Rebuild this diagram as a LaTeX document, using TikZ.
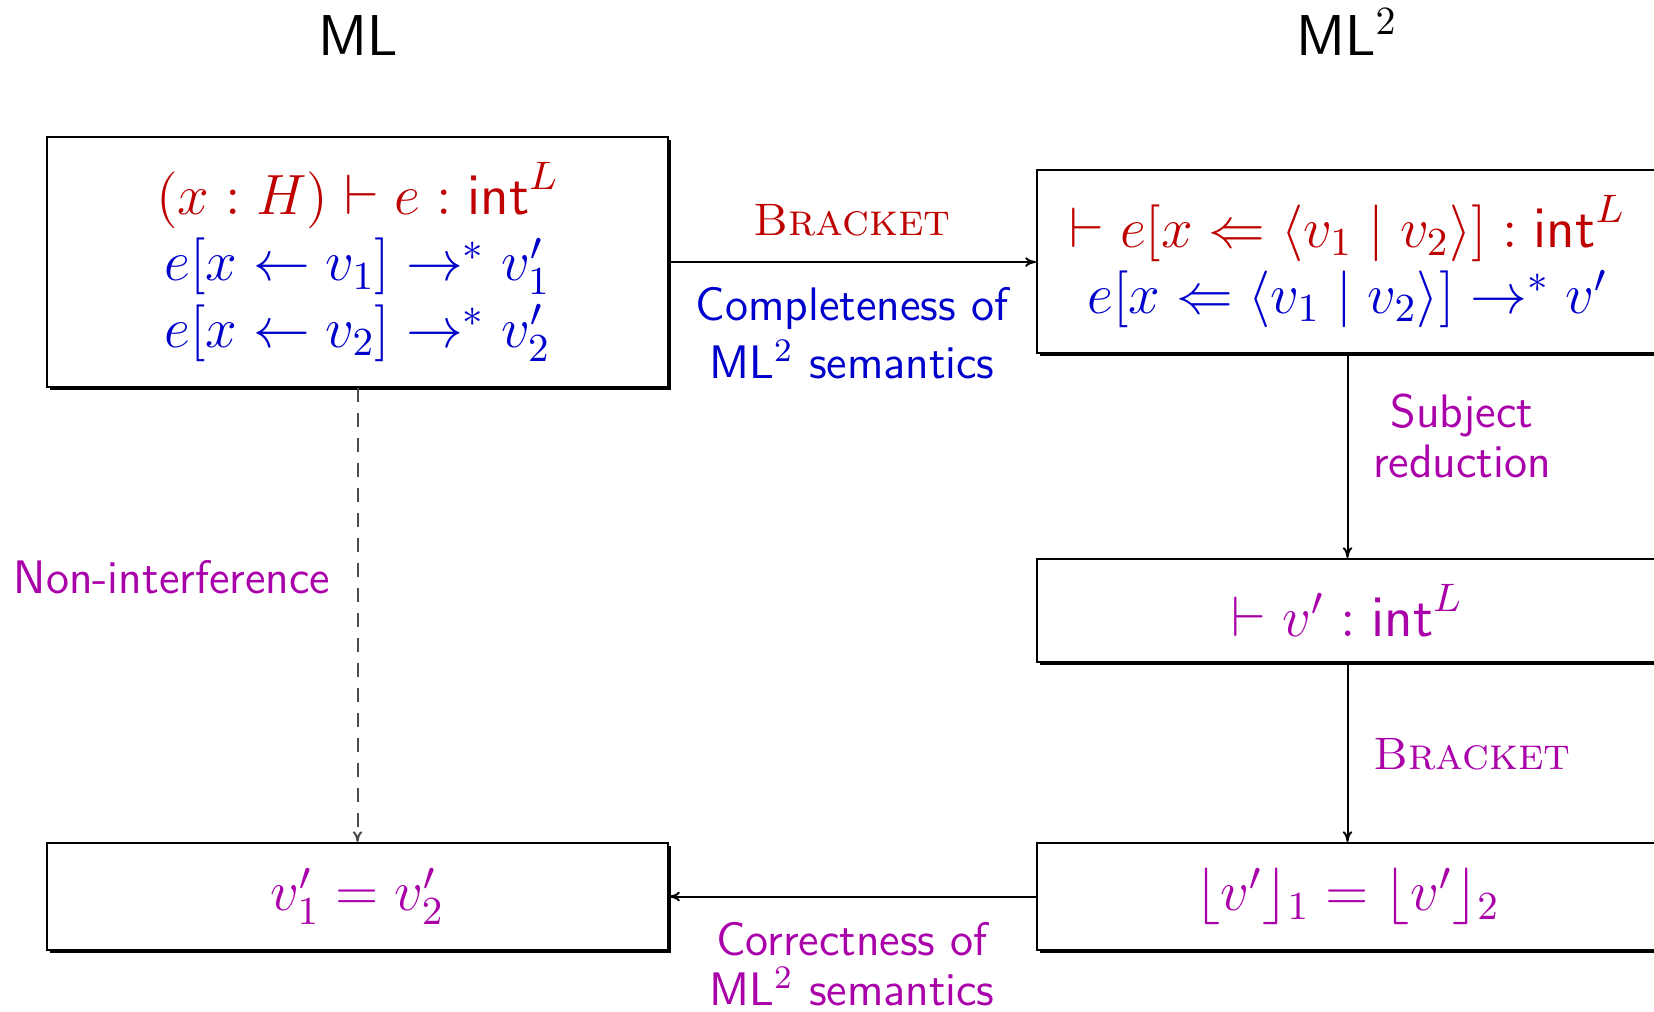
\RequirePackage{fix-cm}
\documentclass[tikz,border=0pt]{standalone}
\usepackage{amsmath}
\usetikzlibrary{arrows.meta,shadows}
\definecolor{cred}{RGB}{191,0,0}
\definecolor{cblue}{RGB}{0,0,204}
\definecolor{cmag}{RGB}{170,0,170}
\newcommand{\boxfont}{\fontsize{14.2}{16.6}\selectfont}
\newcommand{\lblfont}{\sffamily\fontsize{11.75}{12.5}\selectfont}
\newcommand{\lblfontwide}{\sffamily\fontsize{11.75}{14.5}\selectfont}
\newcommand{\scfont}{\rmfamily\scshape\fontsize{11.375}{12.5}\selectfont}
\newcommand{\ttlfont}{\sffamily\fontsize{14.4}{16}\selectfont}
\newcommand{\myint}{\mathsf{int}}
\begin{document}
\begin{tikzpicture}[x=0.25pt,y=-0.25pt,
  stmt/.style={draw=black, line width=0.5pt, fill=white, inner sep=0pt,
    minimum width=155.25pt, align=center, font=\boxfont,
    drop shadow={shadow xshift=0.7pt,shadow yshift=-0.7pt,fill=black,opacity=1}},
  lbl/.style={inner sep=0pt, align=center, font=\lblfont},
  ttl/.style={inner sep=0pt, font=\ttlfont, anchor=base},
  conn/.style={line width=0.5pt, -{To[length=2.7pt,width=2.4pt]}},
  dconn/.style={conn, draw=black!70, dash pattern=on 3.5pt off 2.75pt}
]
\useasboundingbox (0,0) rectangle (1654,1011);

% column titles
\node[ttl] (tml) at (358,55) {ML};
\node[ttl] (tmltwo) at (1347,55) {ML$^2$};

% boxes
\node[stmt, minimum height=62.5pt] (b1) at (357.5,262)
  {\textcolor{cred}{$(x:H)\vdash e:\myint^L$}\\
   \textcolor{cblue}{$e[x\leftarrow v_1]\rightarrow^{*} v_1'$}\\
   \textcolor{cblue}{$e[x\leftarrow v_2]\rightarrow^{*} v_2'$}};
\node[stmt, minimum height=45.75pt] (b2) at (1347.5,261.5)
  {\textcolor{cred}{$\vdash e[x\Leftarrow\langle v_1\mid v_2\rangle]:\myint^L$}\\
   \textcolor{cblue}{$e[x\Leftarrow\langle v_1\mid v_2\rangle]\rightarrow^{*} v'$}};
\node[stmt, minimum height=25.75pt] (b3) at (1347.5,610.5)
  {\textcolor{cmag}{$\vdash v':\myint^L$}};
\node[stmt, minimum height=26.75pt] (b4) at (1347.5,896.5)
  {\textcolor{cmag}{$\lfloor v'\rfloor_1=\lfloor v'\rfloor_2$}};
\node[stmt, minimum height=26.75pt] (b5) at (357.5,896.5)
  {\textcolor{cmag}{$v_1'=v_2'$}};

% connectors
\draw[conn] (b1.east) -- (b1.east -| b2.west);
\draw[conn] (b2.south) -- (b3.north);
\draw[conn] (b3.south) -- (b4.north);
\draw[conn] (b4.west) -- (b5.east);
\draw[dconn] (b1.south) -- (b5.north);

% labels
\node[lbl, anchor=base, font=\scfont, text=cred] (brone) at (852,235) {Bracket};
\node[lbl, font=\lblfontwide, text=cblue] (compl) at (852,333) {Completeness of\\ML$^2$ semantics};
\node[lbl, text=cmag] (subj) at (1462,436) {Subject\\reduction};
\node[lbl, anchor=base, font=\scfont, text=cmag] (brtwo) at (1472,769) {Bracket};
\node[lbl, text=cmag] (corr) at (852,964) {Correctness of\\ML$^2$ semantics};
\node[lbl, anchor=base, text=cmag] (nonint) at (172,593) {Non-interference};
\end{tikzpicture}
\end{document}
